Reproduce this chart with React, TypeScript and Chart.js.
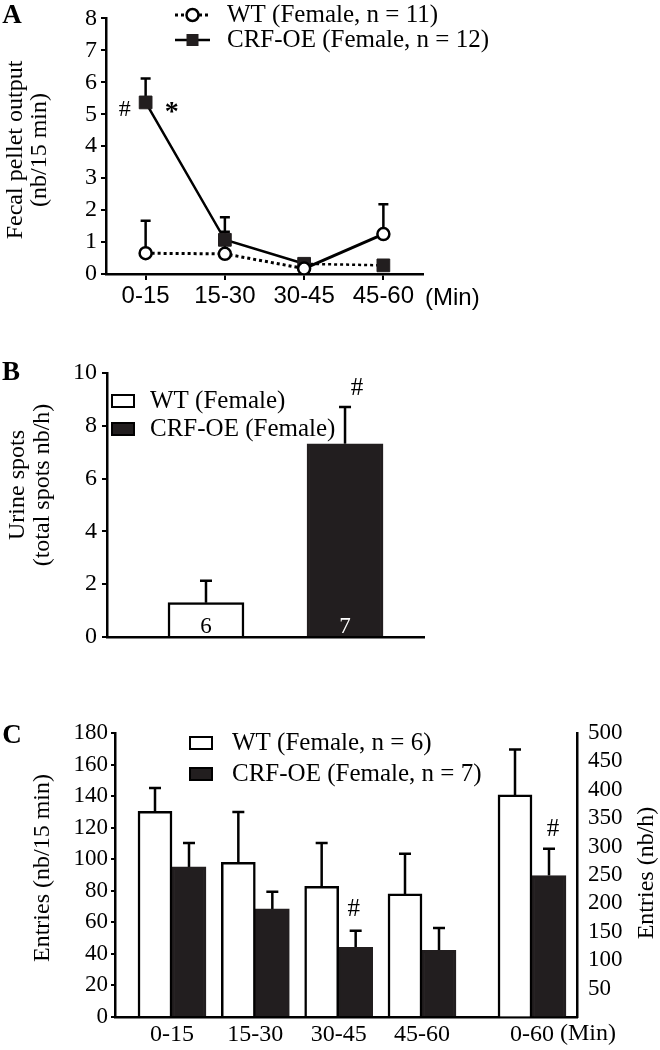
import React, { useEffect, useRef } from 'react';
import { Chart, registerables } from 'chart.js';
Chart.register(...registerables);

const SERIF = '"Liberation Serif", "Times New Roman", serif';
const SANS = '"Liberation Sans", Arial, sans-serif';
const INK = '#000000';
const DARK = '#221e1f';
const PAGE_W = 660;

// ---------------- Panel A data ----------------
const A_LABELS = ['0-15', '15-30', '30-45', '45-60'];
const A_UNIT = '(Min)';
const A_WT_NAME = 'WT (Female, n = 11)';
const A_CRF_NAME = 'CRF-OE (Female, n = 12)';
const A_WT = [0.65, 0.63, 0.17, 1.25];
const A_WT_SEM = [1.02, 0.69, 0, 0.93];
const A_CRF = [5.37, 1.07, 0.32, 0.27];
const A_CRF_SEM = [0.75, 0.71, 0, 0];
const A_Y_TITLE = ['Fecal pellet output', '(nb/15 min)'];
const A_Y_MAX = 8;

// ---------------- Panel B data ----------------
const B_GROUPS = ['WT (Female)', 'CRF-OE (Female)'];
const B_VALUES = [1.3, 7.32];
const B_SEM = [0.83, 1.39];
const B_N = ['6', '7'];
const B_Y_TITLE = ['Urine spots', '(total spots nb/h)'];
const B_Y_MAX = 10;

// ---------------- Panel C data ----------------
const C_LABELS = ['0-15', '15-30', '30-45', '45-60'];
const C_TOTAL_LABEL = '0-60';
const C_WT_NAME = 'WT (Female, n = 6)';
const C_CRF_NAME = 'CRF-OE (Female, n = 7)';
const C_WT = [130.4, 98.0, 82.8, 78.0];
const C_WT_SEM = [14.8, 31.9, 27.5, 25.5];
const C_CRF = [95.1, 68.5, 44.2, 42.3];
const C_CRF_SEM = [15.2, 10.9, 10.5, 14.1];
const C_WT_TOTAL = [391];
const C_WT_TOTAL_SEM = [80];
const C_CRF_TOTAL = [249];
const C_CRF_TOTAL_SEM = [47];
const C_Y_TITLE = 'Entries (nb/15 min)';
const C_Y2_TITLE = 'Entries (nb/h)';
const C_Y_MAX = 180;
const C_Y2_MAX = 500;

// ---------------- helpers / plugins ----------------
const font = (size: number, fam = SERIF, weight = 'normal') => `${weight} ${size}px ${fam}`;
const LEGEND_FONT = 25;

function errorBars(items: { ds: number; sem: number[] }[], cap: number, width: number) {
  return {
    id: 'errorBars',
    beforeDatasetsDraw(chart: any) {
      const ctx = chart.ctx;
      ctx.save();
      ctx.strokeStyle = INK;
      ctx.lineWidth = width;
      items.forEach(({ ds, sem }) => {
        const meta = chart.getDatasetMeta(ds);
        const yScale = chart.scales[meta.yAxisID];
        meta.data.forEach((el: any, i: number) => {
          const s = sem[i];
          if (!s) return;
          const v = meta.controller.getParsed(i)[yScale.axis];
          const top = yScale.getPixelForValue(v + s);
          ctx.beginPath();
          ctx.moveTo(el.x, el.y);
          ctx.lineTo(el.x, top);
          ctx.moveTo(el.x - cap / 2, top);
          ctx.lineTo(el.x + cap / 2, top);
          ctx.stroke();
        });
      });
      ctx.restore();
    },
  };
}

type Note = {
  text: string;
  f: string;
  color?: string;
  align?: CanvasTextAlign;
  x?: number;
  y?: number;
  ds?: number;
  idx?: number;
  at?: 'value' | 'err' | 'base';
  sem?: number[];
  dx?: number;
  dy?: number;
};

function notes(list: Note[]) {
  return {
    id: 'notes',
    afterDraw(chart: any) {
      const ctx = chart.ctx;
      list.forEach((n) => {
        let x = n.x ?? 0;
        let y = n.y ?? 0;
        if (n.ds !== undefined && n.idx !== undefined) {
          const meta = chart.getDatasetMeta(n.ds);
          const el = meta.data[n.idx];
          const yScale = chart.scales[meta.yAxisID];
          const v = meta.controller.getParsed(n.idx)[yScale.axis];
          x = el.x;
          y = el.y;
          if (n.at === 'err') y = yScale.getPixelForValue(v + (n.sem ? n.sem[n.idx] : 0));
          if (n.at === 'base') y = yScale.getPixelForValue(0);
        }
        x += n.dx ?? 0;
        y += n.dy ?? 0;
        ctx.save();
        ctx.font = n.f;
        ctx.fillStyle = n.color ?? INK;
        ctx.textAlign = n.align ?? 'center';
        ctx.textBaseline = 'middle';
        ctx.fillText(n.text, x, y);
        ctx.restore();
      });
    },
  };
}

type Title = { lines: string[]; x: number; y: number; gap: number; f: string };
function yTitles(list: Title[]) {
  return {
    id: 'yTitles',
    afterDraw(chart: any) {
      const ctx = chart.ctx;
      list.forEach((t) => {
        ctx.save();
        ctx.translate(t.x, t.y);
        ctx.rotate(-Math.PI / 2);
        ctx.font = t.f;
        ctx.fillStyle = INK;
        ctx.textAlign = 'center';
        ctx.textBaseline = 'middle';
        t.lines.forEach((line, i) => ctx.fillText(line, 0, i * t.gap));
        ctx.restore();
      });
    },
  };
}

type LegendItem = {
  text: string;
  kind: 'line' | 'box';
  stroke?: string;
  fill: string;
  dash?: number[];
  lineWidth?: number;
  marker?: 'circle' | 'rect';
  y: number;
};
function legend(items: LegendItem[], x: number, sampleW: number, textX: number, f: string) {
  return {
    id: 'panelLegend',
    afterDraw(chart: any) {
      const ctx = chart.ctx;
      items.forEach((it) => {
        ctx.save();
        if (it.kind === 'line') {
          ctx.strokeStyle = it.stroke ?? INK;
          ctx.lineWidth = it.lineWidth ?? 2.5;
          ctx.setLineDash(it.dash ?? []);
          ctx.beginPath();
          ctx.moveTo(x, it.y);
          ctx.lineTo(x + sampleW, it.y);
          ctx.stroke();
          ctx.setLineDash([]);
          const cx = x + sampleW / 2;
          ctx.fillStyle = it.fill;
          ctx.lineWidth = 2.5;
          ctx.beginPath();
          if (it.marker === 'circle') {
            ctx.arc(cx, it.y, 6, 0, Math.PI * 2);
            ctx.fill();
            ctx.stroke();
          } else {
            ctx.rect(cx - 6, it.y - 6, 12, 12);
            ctx.fill();
          }
        } else {
          ctx.fillStyle = it.fill;
          ctx.fillRect(x, it.y - 6, sampleW, 12);
          ctx.strokeStyle = INK;
          ctx.lineWidth = 2;
          ctx.strokeRect(x, it.y - 6, sampleW, 12);
        }
        ctx.font = f;
        ctx.fillStyle = INK;
        ctx.textAlign = 'left';
        ctx.textBaseline = 'middle';
        ctx.fillText(it.text, textX, it.y);
        ctx.restore();
      });
    },
  };
}

const axisBorder = { display: true, color: INK, width: 2.5 };
const tickGrid = (len: number) => ({
  display: true,
  drawOnChartArea: false,
  drawTicks: true,
  tickLength: len,
  color: INK,
  lineWidth: 2,
});

// ---------------- Panel A ----------------
const A_TOP = 0;
const A_H = 330;
function configA(): any {
  const wtDash = [3, 3];
  return {
    type: 'line',
    data: {
      labels: A_LABELS,
      datasets: [
        {
          label: A_WT_NAME,
          data: A_WT,
          borderColor: INK,
          borderWidth: 3,
          borderDash: wtDash,
          segment: { borderDash: (c: any) => (c.p0DataIndex === 2 ? [] : wtDash) },
          pointStyle: 'circle',
          pointRadius: 6,
          pointBackgroundColor: '#ffffff',
          pointBorderColor: INK,
          pointBorderWidth: 2.5,
        },
        {
          label: A_CRF_NAME,
          data: A_CRF,
          borderColor: INK,
          borderWidth: 2.5,
          segment: { borderDash: (c: any) => (c.p0DataIndex === 2 ? wtDash : []) },
          pointStyle: 'rect',
          pointRadius: 9,
          pointBackgroundColor: DARK,
          pointBorderColor: DARK,
          pointBorderWidth: 1,
        },
      ],
    },
    options: {
      responsive: false,
      animation: false,
      devicePixelRatio: 1,
      layout: { padding: { left: 0, top: 7, right: PAGE_W - 423, bottom: 0 } },
      plugins: { legend: { display: false }, tooltip: { enabled: false } },
      scales: {
        x: {
          type: 'category',
          offset: true,
          afterFit: (s: any) => { s.height = A_H - 274; },
          border: axisBorder,
          grid: tickGrid(6),
          ticks: { color: INK, font: { family: SANS, size: 24 }, padding: 2, autoSkip: false, maxRotation: 0 },
        },
        y: {
          min: 0,
          max: A_Y_MAX,
          afterFit: (s: any) => { s.width = 106; },
          border: axisBorder,
          grid: tickGrid(5),
          ticks: { stepSize: 1, color: INK, font: { family: SERIF, size: 24 }, padding: 4, autoSkip: false },
        },
      },
    },
    plugins: [
      errorBars([{ ds: 0, sem: A_WT_SEM }, { ds: 1, sem: A_CRF_SEM }], 10, 2.5),
      yTitles([{ lines: A_Y_TITLE, x: 16, y: 150, gap: 24, f: font(24) }]),
      legend(
        [
          { text: A_WT_NAME, kind: 'line', dash: wtDash, lineWidth: 3, fill: '#ffffff', marker: 'circle', y: 15 },
          { text: A_CRF_NAME, kind: 'line', lineWidth: 2.5, fill: DARK, marker: 'rect', y: 40 },
        ],
        175, 35, 227, font(LEGEND_FONT)
      ),
      notes([
        { text: 'A', f: font(27, SERIF, 'bold'), x: 12, y: 16 },
        { text: '#', f: font(24), ds: 1, idx: 0, at: 'value', dx: -21, dy: 7 },
        { text: '*', f: font(28, SERIF, 'bold'), ds: 1, idx: 0, at: 'value', dx: 26, dy: 10 },
        { text: A_UNIT, f: font(24, SANS), x: 425, y: 298, align: 'left' },
      ]),
    ],
  };
}

// ---------------- Panel B ----------------
const B_TOP = 335;
const B_H = 330;
function configB(): any {
  const fills = ['#ffffff', DARK];
  return {
    type: 'bar',
    data: {
      datasets: [
        {
          label: 'Urine spots',
          data: B_VALUES.map((v, i) => ({ x: i, y: v })),
          backgroundColor: fills,
          borderColor: [INK, DARK],
          borderWidth: 2.5,
          borderSkipped: 'start',
          barThickness: 76,
        },
      ],
    },
    options: {
      responsive: false,
      animation: false,
      devicePixelRatio: 1,
      layout: { padding: { left: 0, top: 373 - B_TOP, right: PAGE_W - 424, bottom: 0 } },
      plugins: { legend: { display: false }, tooltip: { enabled: false } },
      scales: {
        x: {
          type: 'linear',
          offset: false,
          bounds: 'data',
          min: -0.712,
          max: 1.568,
          afterFit: (s: any) => { s.height = B_H - (637 - B_TOP); },
          border: axisBorder,
          grid: { display: false, offset: false },
          ticks: { display: false },
        },
        y: {
          min: 0,
          max: B_Y_MAX,
          afterFit: (s: any) => { s.width = 107; },
          border: axisBorder,
          grid: tickGrid(5),
          ticks: { stepSize: 2, color: INK, font: { family: SERIF, size: 24 }, padding: 5, autoSkip: false },
        },
      },
    },
    plugins: [
      errorBars([{ ds: 0, sem: B_SEM }], 12, 2.5),
      yTitles([{ lines: B_Y_TITLE, x: 18, y: 485 - B_TOP, gap: 25, f: font(24) }]),
      legend(
        [
          { text: B_GROUPS[0], kind: 'box', fill: fills[0], y: 401 - B_TOP },
          { text: B_GROUPS[1], kind: 'box', fill: fills[1], y: 429 - B_TOP },
        ],
        112, 22, 150, font(LEGEND_FONT)
      ),
      notes([
        { text: 'B', f: font(27, SERIF, 'bold'), x: 11, y: 373 - B_TOP },
        { text: '#', f: font(25), ds: 0, idx: 1, at: 'err', sem: B_SEM, dx: 12, dy: -19 },
        { text: B_N[0], f: font(23), ds: 0, idx: 0, at: 'base', dy: -10 },
        { text: B_N[1], f: font(23), color: '#ffffff', ds: 0, idx: 1, at: 'base', dy: -10 },
      ]),
    ],
  };
}

// ---------------- Panel C ----------------
const C_TOP = 680;
const C_H = 370;
function configC(): any {
  const totalPos = 4.32;
  const positions = [...C_LABELS.map((_, i) => i), totalPos];
  const tickLabels = [...C_LABELS, C_TOTAL_LABEL];
  const bar = (label: string, values: number[], xs: number[], axis: string, stack: string, white: boolean) => ({
    label,
    data: values.map((v, i) => ({ x: xs[i], y: v })),
    yAxisID: axis,
    stack,
    backgroundColor: white ? '#ffffff' : DARK,
    borderColor: white ? INK : DARK,
    borderWidth: 2.5,
    borderSkipped: 'start',
    barThickness: 34,
  });
  const idx = C_LABELS.map((_, i) => i);
  return {
    type: 'bar',
    data: {
      datasets: [
        bar(C_WT_NAME, C_WT, idx, 'y', 'wt', true),
        bar(C_CRF_NAME, C_CRF, idx, 'y', 'crf', false),
        bar(C_WT_NAME, C_WT_TOTAL, [totalPos], 'y2', 'wt', true),
        bar(C_CRF_NAME, C_CRF_TOTAL, [totalPos], 'y2', 'crf', false),
      ],
    },
    options: {
      responsive: false,
      animation: false,
      devicePixelRatio: 1,
      layout: { padding: { left: 0, top: 733 - C_TOP, right: 0, bottom: 0 } },
      plugins: { legend: { display: false }, tooltip: { enabled: false } },
      scales: {
        x: {
          type: 'linear',
          offset: false,
          bounds: 'data',
          min: -0.684,
          max: 4.86,
          afterFit: (s: any) => { s.height = C_H - (1017 - C_TOP); },
          afterBuildTicks: (s: any) => { s.ticks = positions.map((v) => ({ value: v })); },
          border: axisBorder,
          grid: { display: true, offset: false, drawOnChartArea: false, drawTicks: false, color: INK },
          ticks: {
            color: INK,
            font: { family: SERIF, size: 24 },
            padding: 3,
            autoSkip: false,
            maxRotation: 0,
            callback: (_v: any, i: number) => tickLabels[i],
          },
        },
        y: {
          min: 0,
          max: C_Y_MAX,
          stacked: false,
          afterFit: (s: any) => { s.width = 115; },
          border: axisBorder,
          grid: tickGrid(4),
          ticks: { stepSize: 20, color: INK, font: { family: SERIF, size: 23 }, padding: 3, autoSkip: false },
        },
        y2: {
          position: 'right',
          min: 0,
          max: C_Y2_MAX,
          stacked: false,
          afterFit: (s: any) => { s.width = PAGE_W - 577; },
          border: axisBorder,
          grid: { display: true, drawOnChartArea: false, drawTicks: false, color: INK },
          ticks: {
            stepSize: 50,
            color: INK,
            font: { family: SERIF, size: 23 },
            padding: 11,
            autoSkip: false,
            callback: (v: any) => (v === 0 ? '' : String(v)),
          },
        },
      },
    },
    plugins: [
      errorBars(
        [
          { ds: 0, sem: C_WT_SEM },
          { ds: 1, sem: C_CRF_SEM },
          { ds: 2, sem: C_WT_TOTAL_SEM },
          { ds: 3, sem: C_CRF_TOTAL_SEM },
        ],
        12,
        2.5
      ),
      yTitles([
        { lines: [C_Y_TITLE], x: 43, y: 868 - C_TOP, gap: 24, f: font(24) },
        { lines: [C_Y2_TITLE], x: 647, y: 873 - C_TOP, gap: 24, f: font(24) },
      ]),
      legend(
        [
          { text: C_WT_NAME, kind: 'box', fill: '#ffffff', y: 743 - C_TOP },
          { text: C_CRF_NAME, kind: 'box', fill: DARK, y: 774 - C_TOP },
        ],
        190, 22, 232, font(LEGEND_FONT)
      ),
      notes([
        { text: 'C', f: font(27, SERIF, 'bold'), x: 12, y: 736 - C_TOP },
        { text: '#', f: font(25), ds: 1, idx: 2, at: 'err', sem: C_CRF_SEM, dx: -2, dy: -21 },
        { text: '#', f: font(25), ds: 3, idx: 0, at: 'err', sem: C_CRF_TOTAL_SEM, dx: 4, dy: -19 },
        { text: A_UNIT, f: font(24), x: 560, y: 1034 - C_TOP, align: 'left' },
      ]),
    ],
  };
}

function Panel({ top, height, make }: { top: number; height: number; make: () => any }) {
  const ref = useRef<HTMLCanvasElement>(null);
  useEffect(() => {
    if (!ref.current) return;
    const chart = new Chart(ref.current, make());
    return () => chart.destroy();
  }, []);
  return (
    <canvas
      ref={ref}
      width={PAGE_W}
      height={height}
      style={{ position: 'absolute', left: 0, top, width: PAGE_W, height, display: 'block' }}
    />
  );
}

export default function App() {
  return (
    <div style={{ position: 'absolute', left: 0, top: 0, width: PAGE_W, height: 1050, background: '#ffffff' }}>
      <Panel top={A_TOP} height={A_H} make={configA} />
      <Panel top={B_TOP} height={B_H} make={configB} />
      <Panel top={C_TOP} height={C_H} make={configC} />
    </div>
  );
}
